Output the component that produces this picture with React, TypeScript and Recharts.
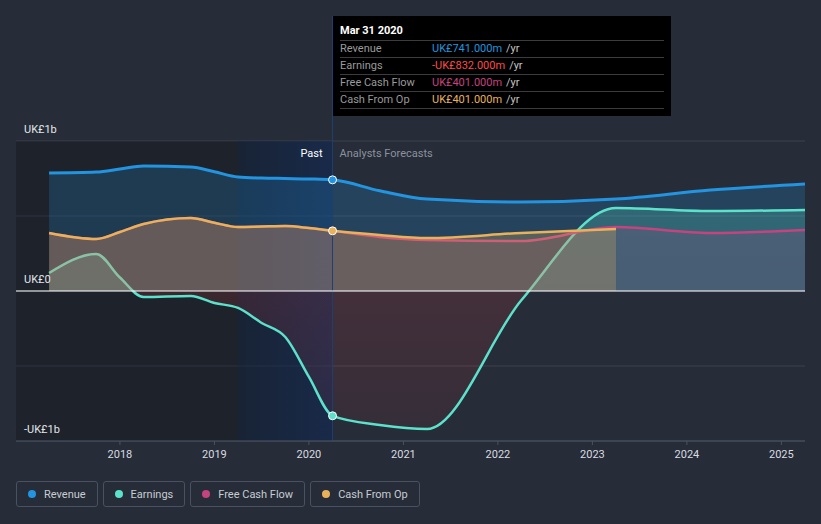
import {
  ComposedChart,
  Area,
  XAxis,
  YAxis,
  CartesianGrid,
  ReferenceArea,
  ReferenceLine,
  ReferenceDot,
} from 'recharts';

// dates as decimal years (Mar 31 ~ .25)
const dates = [2017.25, 2017.75, 2018.0, 2018.25, 2018.75, 2019.0, 2019.25, 2019.5, 2019.75, 2020.0, 2020.25, 2020.75, 2021.25, 2022.25, 2023.25, 2024.25, 2025.25];

// values in UK£ millions
const revenue = [787, 793, 813, 833, 827, 795, 760, 753, 750, 747, 741, 668, 613, 593, 613, 673, 713];
const earnings = [120, 247, 90, -40, -33, -80, -113, -213, -307, -573, -832, -893, -920, -60, 553, 533, 540];
const freeCashFlow = [387, 347, 393, 447, 487, 455, 427, 430, 433, 420, 401, 360, 340, 333, 427, 387, 407];
const cashFromOp = [387, 347, 393, 447, 487, 455, 427, 430, 433, 420, 401, 373, 353, 387, 413, null, null];

const yearTicks = [2018, 2019, 2020, 2021, 2022, 2023, 2024, 2025];
const yTicks = [-1000, -500, 0, 500, 1000];
const yTickLabels: Record<number, string> = { 1000: 'UK£1b', 0: 'UK£0', [-1000]: '-UK£1b' };

const xDomain = [2016.9, 2025.25];
const highlightStart = 2019.25;
const lastReported = 2020.25;

const C = {
  bg: '#262c38',
  revenue: '#2394df',
  earnings: '#5ce1cb',
  fcf: '#c5437f',
  cfo: '#e9b25a',
  neg: '#e64141',
};

const rows = dates.map((d, i) => ({
  date: d,
  revenue: revenue[i],
  earnings: earnings[i],
  fcf: freeCashFlow[i],
  cfo: cashFromOp[i],
}));

const idx = dates.indexOf(lastReported);
const fmt = (v: number) => (v < 0 ? '-' : '') + 'UK£' + Math.abs(v).toFixed(3) + 'm';

const tooltipRows = [
  { label: 'Revenue', value: revenue[idx], color: C.revenue },
  { label: 'Earnings', value: earnings[idx], color: '#ff4a4a' },
  { label: 'Free Cash Flow', value: freeCashFlow[idx], color: C.fcf },
  { label: 'Cash From Op', value: cashFromOp[idx] as number, color: C.cfo },
];

const legendItems = [
  { label: 'Revenue', color: C.revenue },
  { label: 'Earnings', color: C.earnings },
  { label: 'Free Cash Flow', color: C.fcf },
  { label: 'Cash From Op', color: C.cfo },
];

const renderYTick = (props: any) => {
  const { y, payload } = props;
  const text = yTickLabels[payload.value];
  if (!text) return <g />;
  return (
    <text x={24} y={y - 12} fill="#e3e6ea" fontSize={11} dominantBaseline="central" textAnchor="start">
      {text}
    </text>
  );
};

const PastLabel = (props: any) => {
  const { viewBox } = props;
  return (
    <g>
      <text x={viewBox.x - 10} y={viewBox.y + 12} fill="#ffffff" fontSize={11} textAnchor="end" dominantBaseline="central">
        Past
      </text>
      <text x={viewBox.x + 7} y={viewBox.y + 12} fill="#8c929c" fontSize={11} textAnchor="start" dominantBaseline="central">
        Analysts Forecasts
      </text>
    </g>
  );
};

export default function App() {
  return (
    <div
      style={{
        position: 'relative',
        width: 821,
        height: 524,
        background: C.bg,
        fontFamily: 'Roboto, sans-serif',
        overflow: 'hidden',
      }}
    >
      <style>{'body{margin:0}'}</style>
      <ComposedChart
        width={821}
        height={480}
        data={rows}
        margin={{ top: 141, right: 16, left: 15, bottom: 9 }}
      >
        <defs>
          <linearGradient id="pastYear" x1="0" y1="0" x2="1" y2="0">
            <stop offset="0%" stopColor="rgb(10,26,50)" stopOpacity={0.5} />
            <stop offset="100%" stopColor="rgb(12,40,90)" stopOpacity={0.52} />
          </linearGradient>
          <linearGradient id="earnFill" gradientUnits="userSpaceOnUse" x1="0" y1="141" x2="0" y2="441">
            <stop offset="0%" stopColor={C.earnings} stopOpacity={0.25} />
            <stop offset="50%" stopColor={C.earnings} stopOpacity={0.2} />
            <stop offset="50%" stopColor={C.neg} stopOpacity={0.15} />
            <stop offset="100%" stopColor={C.neg} stopOpacity={0.07} />
          </linearGradient>
        </defs>
        <CartesianGrid vertical={false} stroke="#3b424e" />
        <ReferenceArea x1={xDomain[0]} x2={highlightStart} fill="#000" fillOpacity={0.22} stroke="none" />
        <ReferenceArea x1={highlightStart} x2={lastReported} fill="url(#pastYear)" fillOpacity={1} stroke="none" />
        <XAxis
          dataKey="date"
          type="number"
          domain={xDomain}
          ticks={yearTicks}
          tickFormatter={(v) => String(v)}
          height={30}
          stroke="#4b5262"
          tickSize={4}
          tickMargin={5}
          tick={{ fill: '#d9dce0', fontSize: 11 }}
          allowDataOverflow
        />
        <YAxis
          type="number"
          domain={[-1000, 1000]}
          ticks={yTicks}
          width={1}
          axisLine={false}
          tickLine={false}
          tick={renderYTick}
          interval={0}
          allowDataOverflow
        />
        <Area
          type="monotone"
          dataKey="revenue"
          stroke={C.revenue}
          strokeWidth={3}
          fill={C.revenue}
          fillOpacity={0.22}
          isAnimationActive={false}
        />
        <Area
          type="monotone"
          dataKey="earnings"
          stroke={C.earnings}
          strokeWidth={2.5}
          fill="url(#earnFill)"
          fillOpacity={1}
          isAnimationActive={false}
        />
        <Area
          type="monotone"
          dataKey="fcf"
          stroke={C.fcf}
          strokeWidth={2.5}
          fill={C.fcf}
          fillOpacity={0.16}
          isAnimationActive={false}
        />
        <Area
          type="monotone"
          dataKey="cfo"
          stroke={C.cfo}
          strokeWidth={2.5}
          fill={C.cfo}
          fillOpacity={0.25}
          isAnimationActive={false}
        />
        <ReferenceLine y={0} stroke="#ffffff" strokeWidth={1.2} zIndex={1000} />
        <ReferenceLine x={lastReported} stroke="#1f3f70" label={<PastLabel />} />
        <ReferenceDot x={lastReported} y={revenue[idx]} r={4} fill={C.revenue} stroke="#ffffff" strokeWidth={1} />
        <ReferenceDot x={lastReported} y={cashFromOp[idx] as number} r={4} fill={C.cfo} stroke="#ffffff" strokeWidth={1} />
        <ReferenceDot x={lastReported} y={earnings[idx]} r={4} fill={C.earnings} stroke="#ffffff" strokeWidth={1} />
      </ComposedChart>

      {/* static tooltip at last reported date */}
      <div
        style={{
          position: 'absolute',
          left: 332,
          top: 16,
          height: 125,
          borderLeft: '1px solid #1f3f70',
        }}
      >
        <div
          style={{
            width: 324,
            height: 100,
            background: '#000',
            padding: '0 7px',
            boxSizing: 'content-box',
            fontSize: 11,
          }}
        >
          <div style={{ height: 24, lineHeight: '30px', color: '#fff', fontWeight: 700 }}>Mar 31 2020</div>
          {tooltipRows.map((r, i) => (
            <div
              key={r.label}
              style={{
                height: 16,
                lineHeight: '16px',
                borderTop: '1px solid #3c3c3c',
                borderBottom: i === tooltipRows.length - 1 ? '1px solid #3c3c3c' : undefined,
                display: 'flex',
              }}
            >
              <span style={{ width: 92, color: '#9a9a9a' }}>{r.label}</span>
              <span style={{ color: r.color }}>{fmt(r.value)}</span>
              <span style={{ color: '#c4c4c4', marginLeft: 4 }}>/yr</span>
            </div>
          ))}
        </div>
      </div>

      <div style={{ position: 'absolute', left: 16, top: 481, display: 'flex', gap: 5 }}>
        {legendItems.map((it) => (
          <div
            key={it.label}
            style={{
              height: 26,
              boxSizing: 'border-box',
              border: '1px solid #4a5160',
              borderRadius: 3,
              padding: '0 11px 0 11px',
              display: 'flex',
              alignItems: 'center',
              gap: 8,
              fontSize: 11,
              color: '#c8ccd2',
            }}
          >
            <span style={{ width: 8, height: 8, borderRadius: 4, background: it.color, display: 'inline-block' }} />
            <span>{it.label}</span>
          </div>
        ))}
      </div>
    </div>
  );
}
